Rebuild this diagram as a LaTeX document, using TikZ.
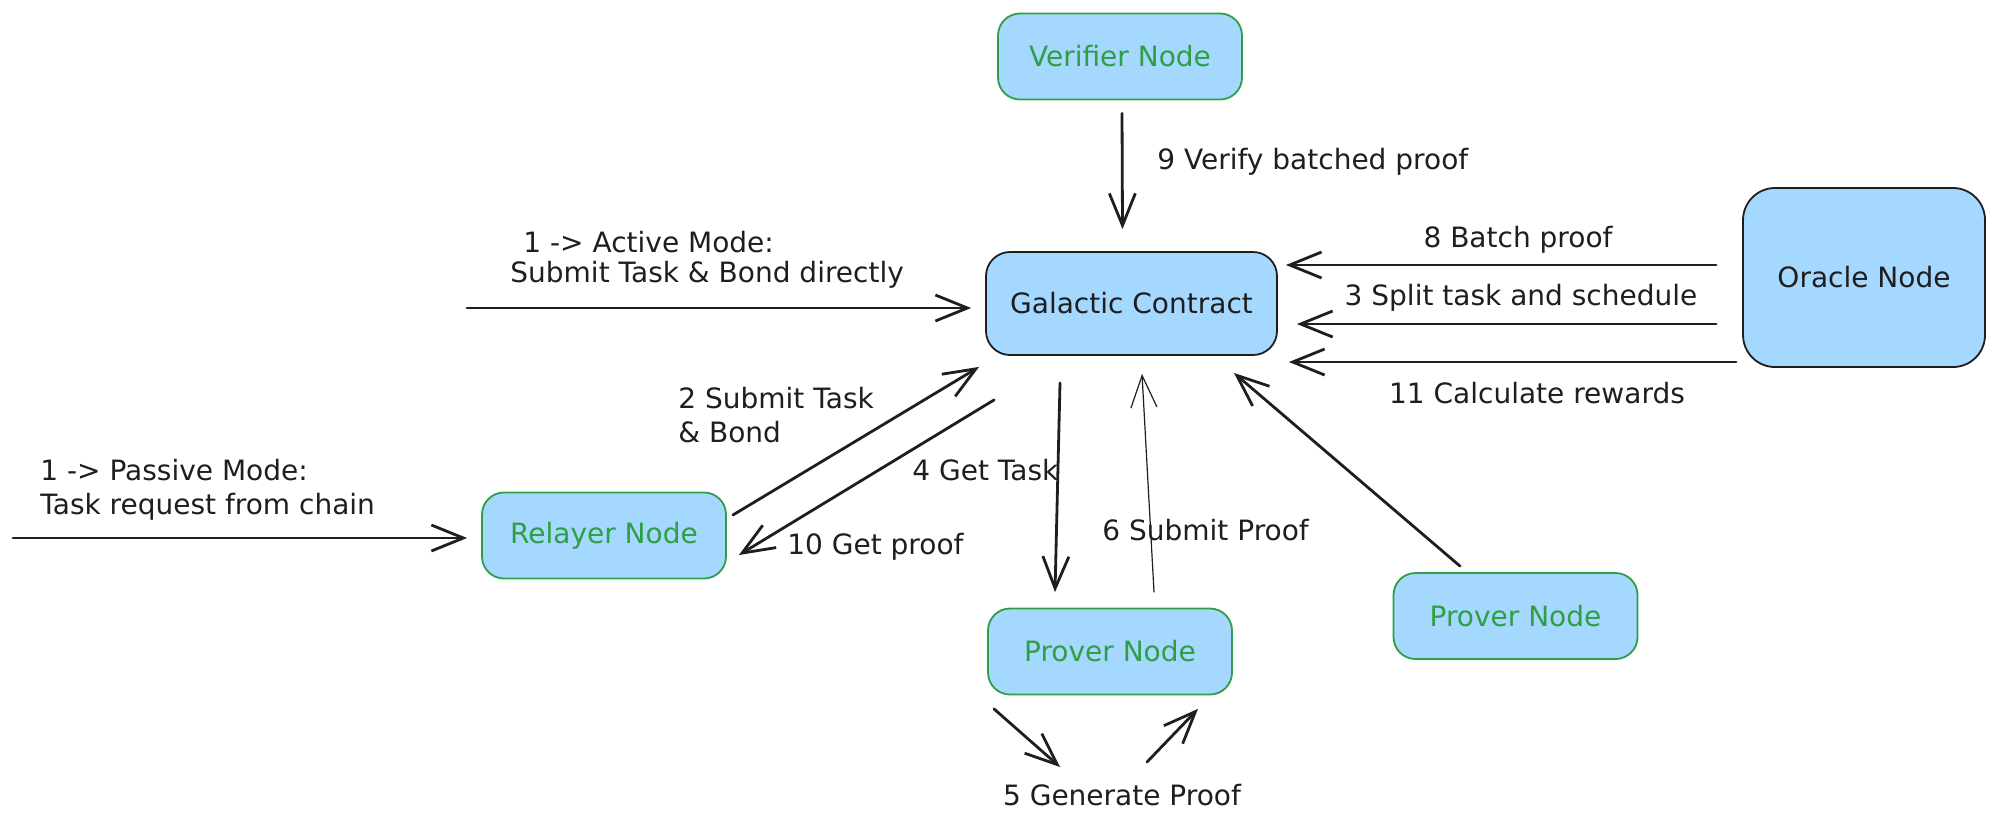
\documentclass[tikz,border=0pt]{standalone}
\usepackage{fontspec}
\setmainfont{DejaVu Sans}
\usetikzlibrary{arrows.meta}
\definecolor{boxfill}{HTML}{A5D8FF}
\definecolor{nodegreen}{HTML}{2F9E44}
\definecolor{ink}{HTML}{1E1E1E}
\begin{document}
\begin{tikzpicture}[x=0.5pt,y=-0.5pt,
  font=\fontsize{14}{17}\selectfont,
  box/.style={draw, fill=boxfill, rounded corners=11pt, line width=0.9pt,
    minimum width=122pt, minimum height=43pt, inner sep=0pt},
  greenbox/.style={box, draw=nodegreen, text=nodegreen},
  blackbox/.style={box, draw=ink, text=ink},
  lbl/.style={text=ink, inner sep=0pt, align=left},
  arr/.style={draw=ink, line width=1.4pt, line cap=round, line join=round,
    -{Straight Barb[length=16pt,width=13pt]}},
  thinarr/.style={arr, line width=0.6pt}
]
\useasboundingbox (0,0) rectangle (2000,827);

% nodes
\node[greenbox] (verifier) at (1120,56.5) {Verifier Node};
\node[blackbox, minimum width=145.5pt, minimum height=51.5pt, rounded corners=12pt] (gc) at (1131.5,303.5) {Galactic Contract};
\node[blackbox, minimum width=121pt, minimum height=89.5pt, rounded corners=16pt] (oracle) at (1864,277.5) {Oracle Node};
\node[greenbox] (relayer) at (604,535.5) {Relayer Node};
\node[greenbox] (prover) at (1110,651.5) {Prover Node};
\node[greenbox] (prover2) at (1515.5,616) {Prover Node};

% labels
\node[lbl, anchor=west] (t9) at (1157,162) {9 Verify batched proof};
\node[lbl] (t8) at (1518,240) {8 Batch proof};
\node[lbl] (t3) at (1521,298) {3 Split task and schedule};
\node[lbl] (t11) at (1537,393) {11 Calculate rewards};
\node[lbl, anchor=west] (ta1) at (523,242) {1 -> Active Mode:};
\node[lbl, anchor=west] (ta2) at (510,275) {Submit Task \& Bond directly};
\node[lbl, anchor=west] (tp) at (40,490) {1 -> Passive Mode:\\Task request from chain};
\node[lbl, anchor=west] (t2) at (678,415) {2 Submit Task\\\& Bond};
\node[lbl, anchor=west] (t10) at (787,547) {10 Get proof};
\node[lbl, anchor=west] (t4) at (912,470) {4 Get Task};
\node[lbl, anchor=west] (t6) at (1102,530) {6 Submit Proof};
\node[lbl] (t5) at (1122,795) {5 Generate Proof};

% free starting points of the incoming requests
\coordinate (actstart) at (467,308);
\coordinate (passtart) at (13,538);

% connectors
\draw[arr, shorten >=7pt] (actstart) -- (gc.west |- actstart);
\draw[arr, shorten >=7pt] (passtart) -- (relayer.west |- passtart);
\draw[arr] ([shift={(2,13)}]verifier.south) -- ([shift={(-9,-22)}]gc.north);
\draw[arr] ([shift={(-26,-12.5)}]oracle.west) -- ([shift={(8,-38.5)}]gc.east);
\draw[arr] ([shift={(-26,46.5)}]oracle.west) -- ([shift={(19,20.5)}]gc.east);
\draw[arr] ([shift={(-6,84.5)}]oracle.west) -- ([shift={(11,58.5)}]gc.east);
\draw[arr] ([shift={(6,-20.5)}]relayer.east) -- ([shift={(-6,11)}]gc.south west);
\draw[arr] ([shift={(9,44)}]gc.south west) -- ([shift={(12,19.5)}]relayer.east);
\draw[arr] ([shift={(-71.5,27)}]gc.south) -- ([shift={(-55,-15.5)}]prover.north);
\draw[thinarr] ([shift={(44,-15.5)}]prover.north) -- ([shift={(10.5,18)}]gc.south);
\draw[arr] ([shift={(-55.5,-6)}]prover2.north) -- ([shift={(-44,17)}]gc.south east);
\draw[arr] ([shift={(-116,13.5)}]prover.south) -- ([shift={(-62,-28)}]t5.center);
\draw[arr] ([shift={(25,-33)}]t5.center) -- ([shift={(88,13.5)}]prover.south);
\end{tikzpicture}
\end{document}
